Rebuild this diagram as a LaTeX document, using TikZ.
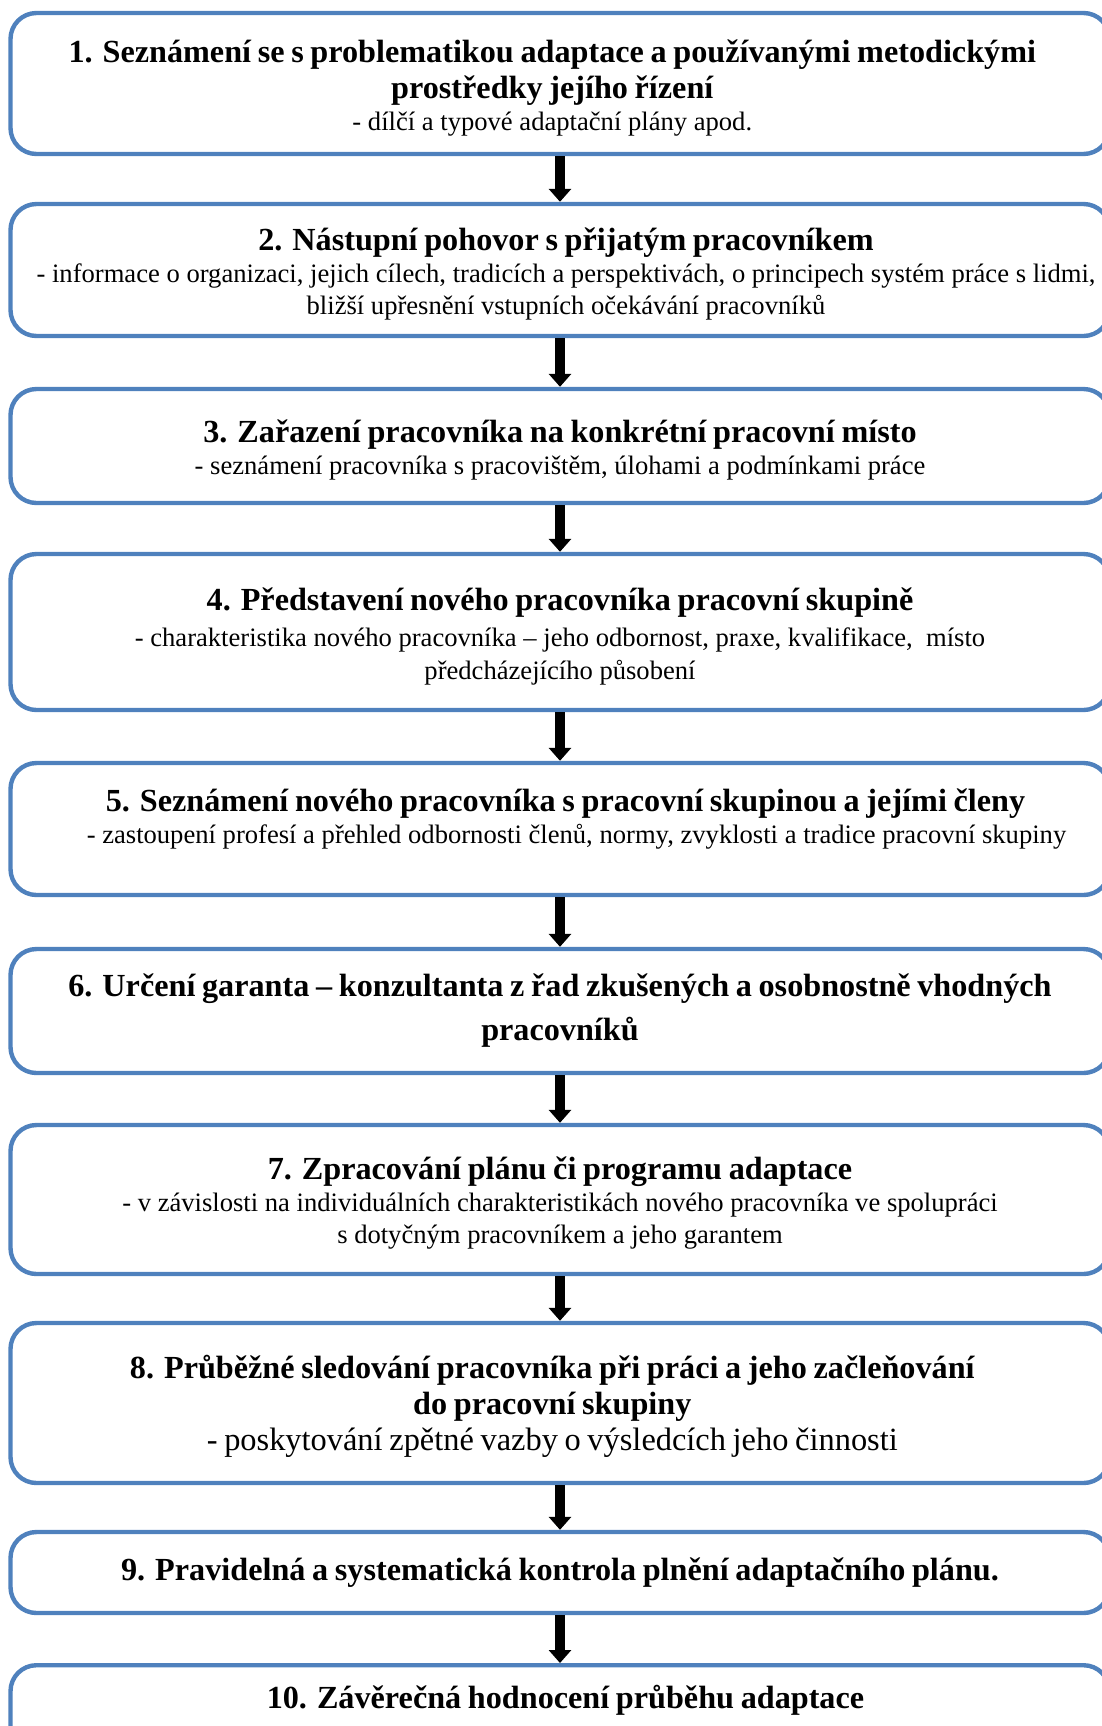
\documentclass[tikz,border=0pt]{standalone}
\usepackage{fontspec}
\setmainfont{Liberation Serif}
\usetikzlibrary{arrows.meta}
\definecolor{boxblue}{RGB}{79,129,189}
\newcommand{\steptitle}[1]{{\fontsize{16.1}{18}\bfseries\selectfont #1\par}}
\newcommand{\stepnote}[1]{{\fontsize{13.3}{16}\selectfont #1\par}}
\newcommand{\stepgap}[1]{\par\nointerlineskip\hbox{}\nointerlineskip\vspace{#1}\nointerlineskip\hbox{}\nointerlineskip}
\newcommand{\stepleft}[1]{\advance\rightskip #1\relax}
\newcommand{\stepright}[1]{\advance\leftskip #1\relax}

\begin{document}
\begin{tikzpicture}[
	x=0.5pt, y=-0.5pt,
	stepbox/.style={rectangle, draw=boxblue, line width=2.2pt, rounded corners=13pt,
		inner sep=0pt, text width=549.5pt, align=center},
	flowarrow/.style={-{Triangle[width=11pt,length=6.5pt]}, line width=5pt}
	]
	\clip (0,0) rectangle (1102,1726);
	\node[stepbox, minimum height=70.5pt] (step1) at (560,83.5)
		{\stepleft{7.7pt}\stepgap{4.4pt}
		 \steptitle{1. Seznámení se s problematikou adaptace a používanými metodickými\\ prostředky jejího řízení}
		 \stepnote{- dílčí a typové adaptační plány apod.}};
	\node[stepbox, minimum height=66pt] (step2) at (560,270)
		{\stepright{6pt}\stepgap{3.9pt}
		 \steptitle{2. Nástupní pohovor s přijatým pracovníkem}
		 \stepnote{- informace o organizaci, jejich cílech, tradicích a perspektivách, o principech systém práce s lidmi,\\ bližší upřesnění vstupních očekávání pracovníků}};
	\node[stepbox, minimum height=57pt] (step3) at (560,446)
		{\stepgap{4.4pt}
		 \steptitle{3. Zařazení pracovníka na konkrétní pracovní místo}
		 \stepnote{- seznámení pracovníka s pracovištěm, úlohami a podmínkami práce}};
	\node[stepbox, minimum height=78pt] (step4) at (560,632)
		{\stepgap{4.4pt}
		 \steptitle{4. Představení nového pracovníka pracovní skupině}
		 \vspace{1.7pt}
		 {\fontsize{13.3}{16.5}\selectfont - charakteristika nového pracovníka – jeho odbornost, praxe, kvalifikace,~ místo\\ předcházejícího působení\par}};
	\node[stepbox, minimum height=66pt] (step5) at (560,829)
		{\steptitle{\stepright{5.5pt}5. Seznámení nového pracovníka s pracovní skupinou a jejími členy}
		 \stepnote{\stepright{16.5pt}- zastoupení profesí a přehled odbornosti členů, normy, zvyklosti a tradice pracovní skupiny}
		 \stepgap{9.9pt}};
	\node[stepbox, minimum height=62pt] (step6) at (560,1011)
		{{\fontsize{16.1}{22}\bfseries\selectfont 6. Určení garanta – konzultanta z řad zkušených a osobnostně vhodných\\ pracovníků\par}};
	\node[stepbox, minimum height=74.5pt] (step7) at (560,1199.5)
		{\stepgap{3.9pt}
		 \steptitle{7. Zpracování plánu či programu adaptace}
		 \stepnote{- v závislosti na individuálních charakteristikách nového pracovníka ve spolupráci\\ s dotyčným pracovníkem a jeho garantem}};
	\node[stepbox, minimum height=80pt] (step8) at (560,1403)
		{\stepleft{7.7pt}\stepgap{3.3pt}
		 \steptitle{8. Průběžné sledování pracovníka při práci a jeho začleňování\\ do pracovní skupiny}
		 {\fontsize{16.2}{18}\selectfont - poskytování zpětné vazby o výsledcích jeho činnosti\par}};
	\node[stepbox, minimum height=40.5pt] (step9) at (560,1572.5)
		{\steptitle{9. Pravidelná a systematická kontrola plnění adaptačního plánu.}};
	\node[stepbox, anchor=north, text height=21.7pt, text depth=50pt] (step10) at (560,1663)
		{\stepright{5.5pt}\steptitle{10. Závěrečná hodnocení průběhu adaptace}};
	\foreach \i [evaluate=\i as \j using int(\i+1)] in {1,...,9}
		\draw[flowarrow] (step\i.south) -- (step\j.north);
\end{tikzpicture}
\end{document}
